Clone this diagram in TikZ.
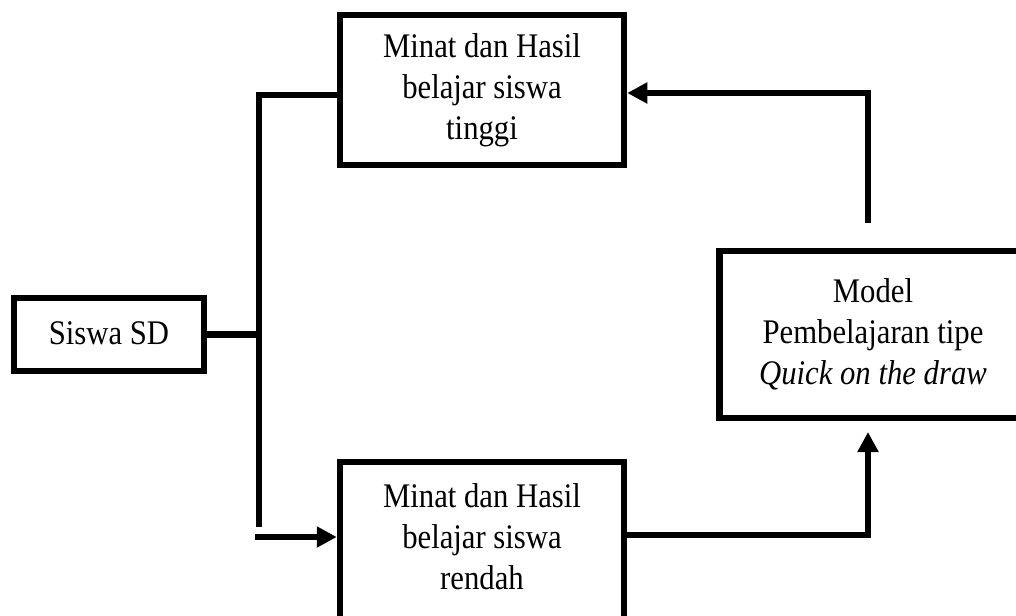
\documentclass[tikz,border=0pt]{standalone}
\usepackage{fontspec}
\setmainfont[FakeStretch=0.89]{Liberation Serif}
\usetikzlibrary{arrows.meta}
\begin{document}
\begin{tikzpicture}[x=1pt,y=-1pt,
  txt/.style={align=center, font=\fontsize{34.5}{41}\selectfont},
  box/.style={txt, draw, line width=6.5pt, rectangle, inner sep=0pt},
  conn/.style={line width=6.5pt},
  arr/.style={conn, -{Triangle[length=20pt,width=20pt]}}]
\useasboundingbox (0,0) rectangle (1016,615);

\node[box, minimum width=190pt, minimum height=73pt] (siswa) at (109,334.5) {\raisebox{2pt}{Siswa SD}};
\node[box, minimum width=284pt, minimum height=150pt] (tinggi) at (482,90) {Minat dan Hasil\\belajar siswa\\tinggi};
\node[box, minimum width=284pt, minimum height=170pt,
  label={[txt, yshift=10pt]center:{Minat dan Hasil\\belajar siswa\\rendah}}] (rendah) at (482,547) {};
\node[box, minimum width=307pt, minimum height=167pt] (model) at (873,334.5) {Model\\Pembelajaran tipe\\\textit{Quick on the draw}};

\coordinate (j) at (259,334.5);
\coordinate (vtop) at (259,95);
\coordinate (vbot) at (259,527);
\coordinate (bstart) at (255,537);
\coordinate (bturn) at (868,535);
\coordinate (mtip) at (868,432);
\coordinate (mtop) at (868,223);
\coordinate (tturn) at (868,93);

\draw[conn] (siswa.east) -- (j);
\draw[conn] ([yshift=-5pt]tinggi.west) -- (vtop) -- (vbot);
\draw[arr] (bstart) -- (bstart -| rendah.west);
\draw[arr] (rendah.east |- bturn) -- (bturn) -- (mtip);
\draw[arr] (mtop) -- (tturn) -- (tturn -| tinggi.east);
\end{tikzpicture}
\end{document}
